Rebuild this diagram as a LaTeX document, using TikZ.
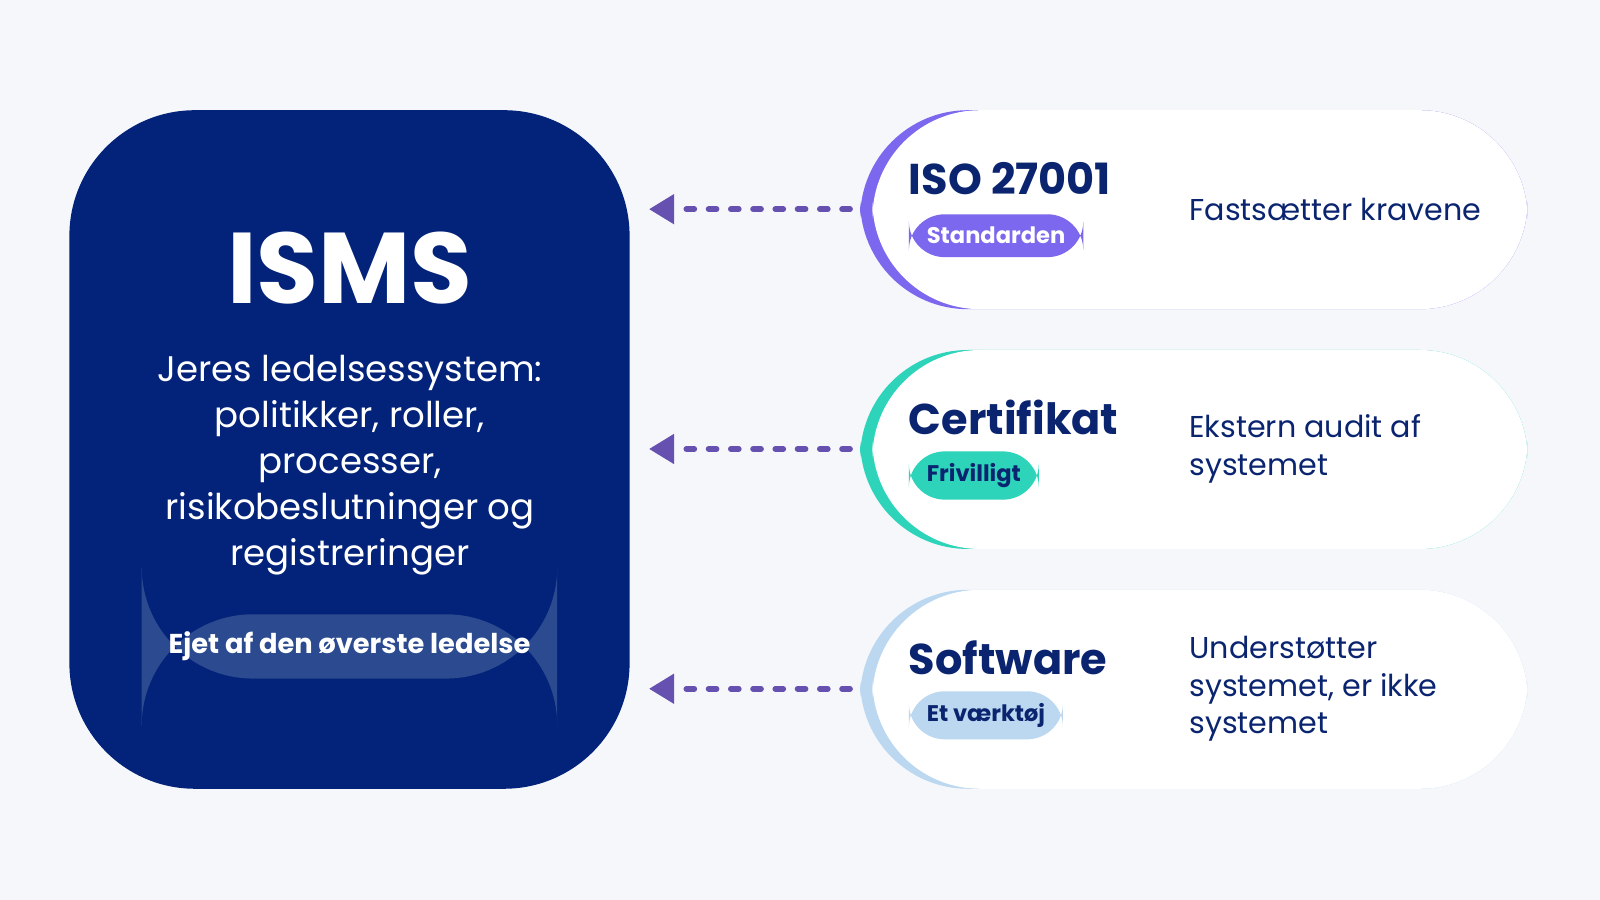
\documentclass[tikz,border=0pt]{standalone}
\usepackage{fontspec}
\setmainfont{Poppins}
\usetikzlibrary{arrows.meta}
\definecolor{bg}{HTML}{F5F7FB}
\definecolor{navy}{HTML}{03237A}
\definecolor{pill}{HTML}{2B4A8F}
\definecolor{purp}{HTML}{7B68EE}
\definecolor{teal}{HTML}{2DD4BA}
\definecolor{lblue}{HTML}{BCD8F0}
\definecolor{arr}{HTML}{6650B0}
\definecolor{dtext}{HTML}{0A2470}
\begin{document}
\begin{tikzpicture}[x=0.01cm,y=-0.01cm,
  card/.style={fill=white,rounded corners=30},
  title/.style={anchor=base west,font=\fontsize{12}{14}\selectfont\bfseries,text=dtext,inner sep=0},
  badge/.style={anchor=west,rounded corners=10,minimum height=42*0.2845pt,inner xsep=5pt,font=\fontsize{6.3}{7}\selectfont\bfseries},
  desc/.style={anchor=west,align=left,font=\fontsize{8.4}{10.5}\selectfont,text=dtext,inner sep=0},
  conn/.style={arr,line width=1.6pt,dash pattern=on 2.2pt off 4pt,line cap=round,-{Triangle[length=7pt,width=8pt]}}]
\fill[bg] (0,0) rectangle (1568,882);
\useasboundingbox (0,0) rectangle (1568,882);
\fill[navy,rounded corners=35] (68,108) rectangle (617,773);
\node[text=white,font=\fontsize{28}{30}\selectfont\bfseries] (isms) at (343,263) {ISMS};
\node[text=white,align=center,font=\fontsize{9.9}{12.8}\selectfont] (body) at (343,456) {Jeres ledelsessystem:\\politikker, roller,\\processer,\\risikobeslutninger og\\registreringer};
\node[fill=pill,rounded corners=31,minimum width=407*0.2845pt,minimum height=63*0.2845pt,text=white,font=\fontsize{7.6}{9}\selectfont\bfseries] (owner) at (342.5,633.5) {Ejet af den øverste ledelse};
\coordinate (lt) at (636,0);
\foreach \i/\y/\c/\t/\b/\bt/\d in {1/108/purp/ISO 27001/Standarden/white/Fastsætter kravene,2/343/teal/Certifikat/Frivilligt/dtext/{Ekstern audit af\\systemet},3/578/lblue/Software/Et værktøj/dtext/{Understøtter\\systemet, er ikke\\systemet}}{
  \fill[\c,rounded corners=30] (843,\y) rectangle (1497,\y+195);
  \fill[card] (855,\y) rectangle (1497,\y+195);
  \node[title] (t\i) at (890,\y+83) {\t};
  \node[badge,fill=\c,text=\bt] (b\i) at (890,\y+123) {\b};
  \node[desc] (d\i) at (1165,\y+97) {\d};
  \coordinate (s\i) at (833,\y+97);
  \coordinate (e\i) at (636,\y+97);
  \draw[conn] (s\i) -- (e\i);
}
\end{tikzpicture}
\end{document}
